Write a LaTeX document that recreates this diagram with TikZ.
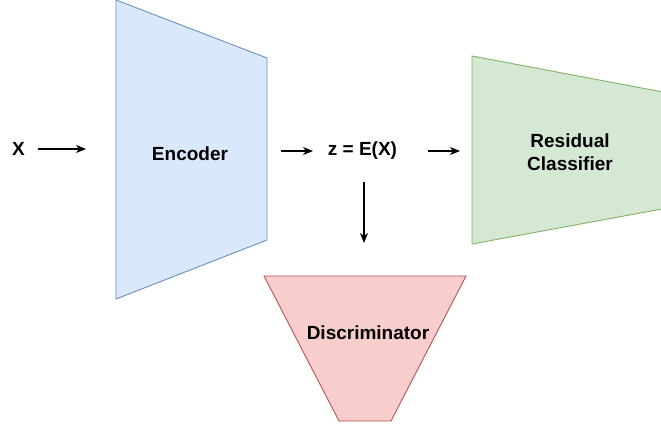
\documentclass[tikz,border=0pt]{standalone}
\usepackage{fontspec}
\setmainfont{Liberation Sans}
\usetikzlibrary{arrows.meta}
\definecolor{encfill}{HTML}{DAE8FC}\definecolor{encline}{HTML}{6C8EBF}
\definecolor{clsfill}{HTML}{D5E8D4}\definecolor{clsline}{HTML}{82B366}
\definecolor{disfill}{HTML}{F8CECC}\definecolor{disline}{HTML}{B85450}
\tikzset{
  lbl/.style={font=\fontsize{19}{23}\selectfont\bfseries, align=center, inner sep=0pt},
  arr/.style={-{Stealth[length=10pt,width=8pt,inset=3pt]}, line width=1.1pt, black},
  block/.style={line width=0.9pt}
}
\begin{document}
\begin{tikzpicture}[x=1pt,y=-1pt]
\useasboundingbox (0,0) rectangle (661,427);
\begin{scope}
\clip (0,0) rectangle (661,427);
\draw[block, fill=encfill, draw=encline] (116,0) -- (267,58) -- (267,240) -- (116,299) -- cycle;
\draw[block, fill=clsfill, draw=clsline] (472,56) -- (700,99) -- (700,202) -- (472,244) -- cycle;
\draw[block, fill=disfill, draw=disline] (264,276) -- (466,276) -- (391,421) -- (339,421) -- cycle;
\end{scope}
\node[lbl] (X) at (18.5,149) {X};
\node[lbl] (enc) at (190,154) {Encoder};
\node[lbl] (z) at (362.5,151) {z = E(X)};
\node[lbl] (cls) at (570,152) {Residual\\Classifier};
\node[lbl] (dis) at (368,333) {Discriminator};
\coordinate (a1) at (38,149); \coordinate (a2) at (86,149);
\coordinate (b1) at (281,151); \coordinate (b2) at (313,151);
\coordinate (c1) at (428,151); \coordinate (c2) at (460,151);
\coordinate (d1) at (364,182); \coordinate (d2) at (364,243);
\draw[arr] (a1) -- (a2);
\draw[arr] (b1) -- (b2);
\draw[arr] (c1) -- (c2);
\draw[arr] (d1) -- (d2);
\end{tikzpicture}
\end{document}
